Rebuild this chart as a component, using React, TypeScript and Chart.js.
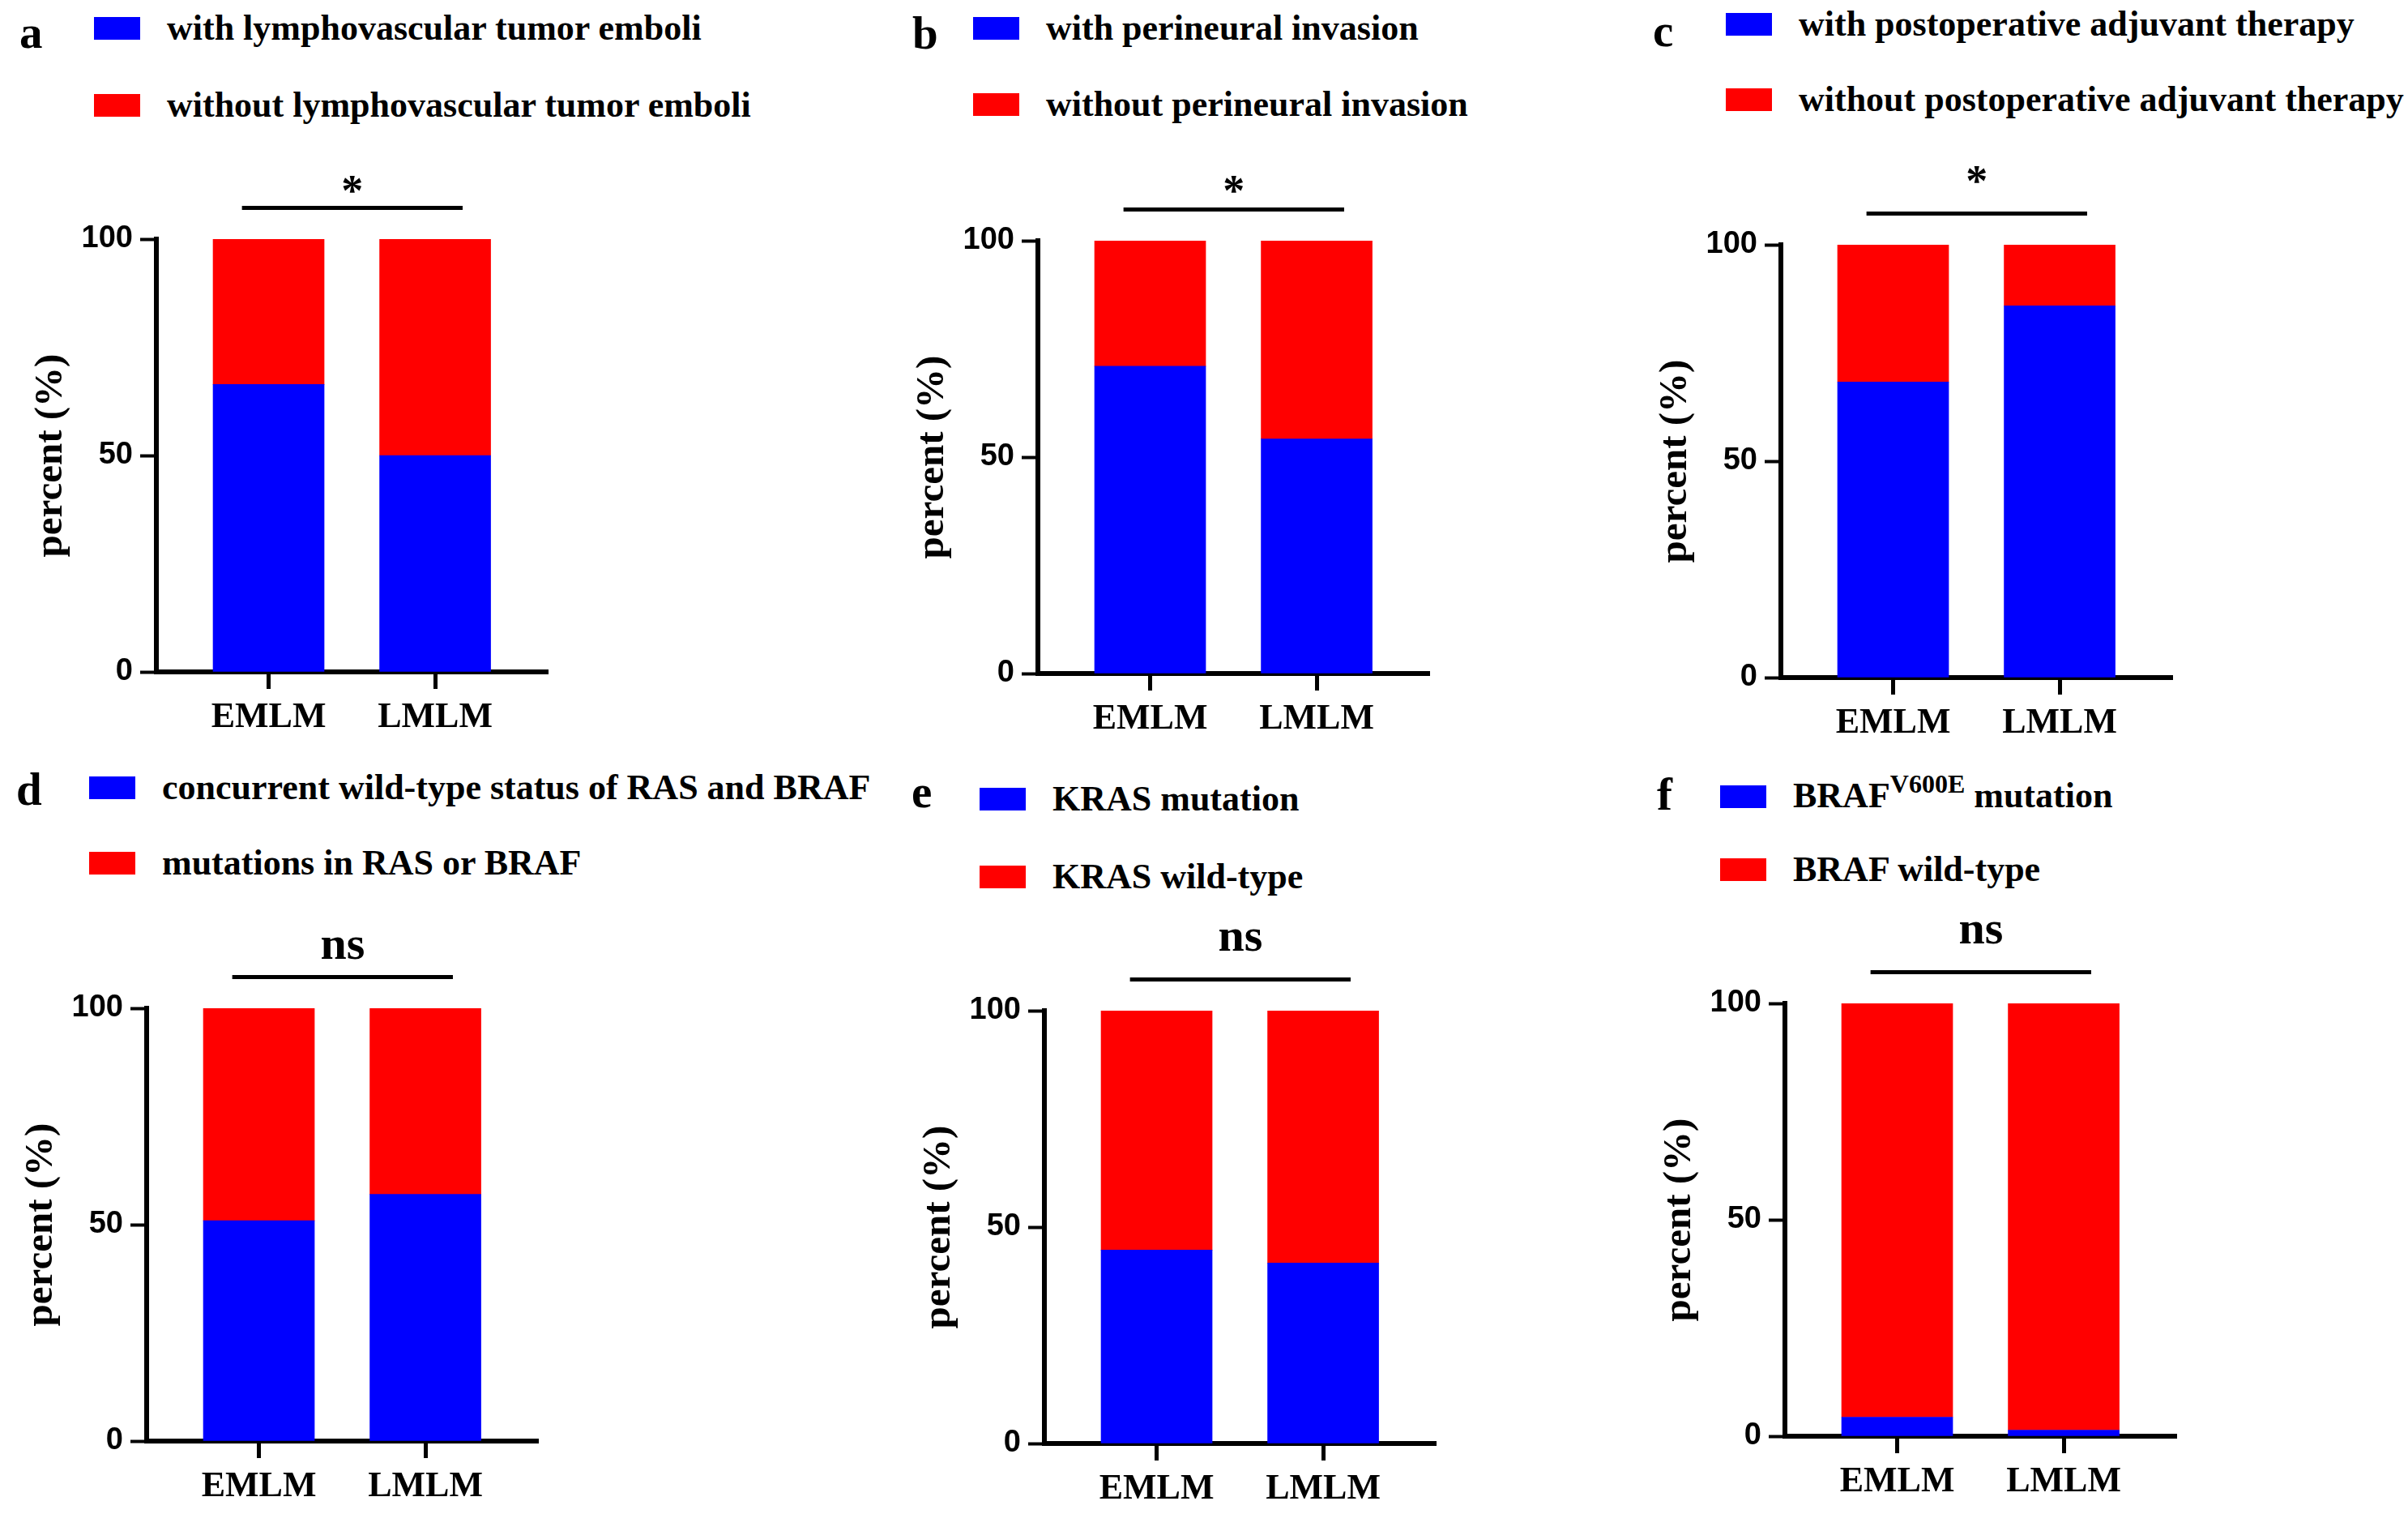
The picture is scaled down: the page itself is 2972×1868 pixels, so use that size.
import { useEffect, useRef } from 'react';
import Chart from 'chart.js/auto';

// categories and tick labels
const categories = ['EMLM', 'LMLM'];
const yTicks = [0, 50, 100];

// percent values (blue = lower segment, red = upper segment)
const lymphWith = [66.4, 50.0];
const lymphWithout = [33.6, 50.0];
const perineuralWith = [71.0, 54.2];
const perineuralWithout = [29.0, 45.8];
const adjuvantWith = [68.3, 85.9];
const adjuvantWithout = [31.7, 14.1];
const wildTypeBoth = [50.9, 57.0];
const rasOrBrafMutated = [49.1, 43.0];
const krasMutated = [44.7, 41.7];
const krasWild = [55.3, 58.3];
const brafMutated = [4.4, 1.4];
const brafWild = [95.6, 98.6];

const BLUE = '#0000ff';
const RED = '#ff0000';
const SERIF = "'Liberation Serif', 'Times New Roman', serif";
const SANS = "'Liberation Sans', Arial, sans-serif";

// canvas geometry shared by every panel
const Y_AXIS_W = 180;
const PAD_TOP = 110;
const PAD_RIGHT = 20;
const X_AXIS_H = 90;
const PLOT_W = 483;
const PLOT_H = 534;
const CANVAS_W = Y_AXIS_W + PLOT_W + PAD_RIGHT;
const CANVAS_H = PAD_TOP + PLOT_H + X_AXIS_H;
const X_MIN = 0.326;
const X_MAX = 2.676;
const BRACKET_FROM = 0.84;
const BRACKET_TO = 2.165;
const BRACKET_LIFT = 38.5;

interface Panel {
  letter: string;
  labels: string[];
  blue: number[];
  red: number[];
  sig: string;
  sigLift: number;
  axisX: number;
  top: number;
  legendX: number;
  rows: number[];
  letterX: number;
  letterBase: number;
}

const panels: Panel[] = [
  {
    letter: 'a',
    labels: ['with lymphovascular tumor emboli', 'without lymphovascular tumor emboli'],
    blue: lymphWith, red: lymphWithout, sig: '*', sigLift: 42,
    axisX: 193, top: 295, legendX: 116, rows: [34.5, 129.5], letterX: 24, letterBase: 59,
  },
  {
    letter: 'b',
    labels: ['with perineural invasion', 'without perineural invasion'],
    blue: perineuralWith, red: perineuralWithout, sig: '*', sigLift: 44.5,
    axisX: 1281, top: 297, legendX: 1201, rows: [35.3, 128.6], letterX: 1126, letterBase: 60,
  },
  {
    letter: 'c',
    labels: ['with postoperative adjuvant therapy', 'without postoperative adjuvant therapy'],
    blue: adjuvantWith, red: adjuvantWithout, sig: '*', sigLift: 61.5,
    axisX: 2198, top: 302, legendX: 2130, rows: [30.1, 123.4], letterX: 2040, letterBase: 57,
  },
  {
    letter: 'd',
    labels: ['concurrent wild-type status of RAS and BRAF', 'mutations in RAS or BRAF'],
    blue: wildTypeBoth, red: rasOrBrafMutated, sig: 'ns', sigLift: 61.5,
    axisX: 181, top: 1244, legendX: 110, rows: [971.6, 1065], letterX: 20, letterBase: 993,
  },
  {
    letter: 'e',
    labels: ['KRAS mutation', 'KRAS wild-type'],
    blue: krasMutated, red: krasWild, sig: 'ns', sigLift: 74.5,
    axisX: 1289, top: 1247, legendX: 1209, rows: [985.8, 1081.5], letterX: 1125, letterBase: 996,
  },
  {
    letter: 'f',
    labels: ['BRAF^V600E^ mutation', 'BRAF wild-type'],
    blue: brafMutated, red: brafWild, sig: 'ns', sigLift: 74.5,
    axisX: 2203, top: 1238, legendX: 2123, rows: [983.4, 1072.5], letterX: 2045, letterBase: 999,
  },
];

const LEGEND_FONT = 44;
const LETTER_FONT = 57;

function LegendText({ text }: { text: string }) {
  const parts = text.split('^');
  if (parts.length < 3) return <span>{text}</span>;
  return (
    <span>
      {parts[0]}
      <span style={{ fontSize: 32, position: 'relative', top: -18 }}>{parts[1]}</span>
      {parts[2]}
    </span>
  );
}

function Legend({ p }: { p: Panel }) {
  const colors = [BLUE, RED];
  return (
    <>
      <div
        style={{
          position: 'absolute',
          left: p.letterX,
          top: p.letterBase - 47.7,
          fontFamily: SERIF,
          fontWeight: 'bold',
          fontSize: LETTER_FONT,
          lineHeight: `${LETTER_FONT}px`,
        }}
      >
        {p.letter}
      </div>
      {p.labels.map((label, i) => (
        <div
          key={label}
          style={{
            position: 'absolute',
            left: p.legendX,
            top: p.rows[i] - LEGEND_FONT / 2,
            height: LEGEND_FONT,
            display: 'flex',
            alignItems: 'center',
            whiteSpace: 'nowrap',
            fontFamily: SERIF,
            fontWeight: 'bold',
            fontSize: LEGEND_FONT,
            lineHeight: `${LEGEND_FONT}px`,
          }}
        >
          <div style={{ width: 57, height: 28, background: colors[i], marginRight: 33 }} />
          <LegendText text={label} />
        </div>
      ))}
    </>
  );
}

function BarPanel({ p }: { p: Panel }) {
  const canvasRef = useRef<HTMLCanvasElement | null>(null);

  useEffect(() => {
    if (!canvasRef.current) return;

    const bracket = {
      id: 'bracket',
      afterDraw(chart: any) {
        const { ctx, chartArea, scales } = chart;
        const x1 = scales.x.getPixelForValue(BRACKET_FROM);
        const x2 = scales.x.getPixelForValue(BRACKET_TO);
        const y = chartArea.top - BRACKET_LIFT;
        ctx.save();
        ctx.strokeStyle = '#000';
        ctx.lineWidth = 5;
        ctx.beginPath();
        ctx.moveTo(x1, y);
        ctx.lineTo(x2, y);
        ctx.stroke();
        ctx.fillStyle = '#000';
        ctx.textAlign = 'center';
        ctx.textBaseline = 'alphabetic';
        ctx.font = `bold ${p.sig === '*' ? 54 : 58}px ${SERIF}`;
        ctx.fillText(p.sig, (x1 + x2) / 2, chartArea.top - p.sigLift);
        ctx.restore();
      },
    };

    const toPoints = (values: number[]) => values.map((v, i) => ({ x: i + 1, y: v }));

    const chart = new Chart(canvasRef.current, {
      type: 'bar',
      data: {
        datasets: [
          { label: p.labels[0], data: toPoints(p.blue), backgroundColor: BLUE, borderWidth: 0, barThickness: 137 },
          { label: p.labels[1], data: toPoints(p.red), backgroundColor: RED, borderWidth: 0, barThickness: 137 },
        ],
      },
      options: {
        animation: false,
        responsive: false,
        layout: { padding: { top: PAD_TOP, right: PAD_RIGHT, bottom: 0, left: 0 } },
        plugins: {
          legend: { display: false },
          tooltip: { enabled: false },
        },
        scales: {
          x: {
            type: 'linear',
            stacked: true,
            min: X_MIN,
            max: X_MAX,
            offset: false,
            afterBuildTicks: (s: any) => {
              s.ticks = categories.map((_, i) => ({ value: i + 1 }));
            },
            afterFit: (s: any) => {
              s.height = X_AXIS_H;
            },
            ticks: {
              callback: (v: any) => categories[Number(v) - 1] ?? '',
              color: '#000',
              font: { family: SERIF, size: 44, weight: 'bold' },
              padding: 9,
              maxRotation: 0,
              autoSkip: false,
            },
            grid: {
              display: true,
              drawOnChartArea: false,
              drawTicks: true,
              tickLength: 21,
              tickWidth: 5,
              color: '#000',
              offset: false,
            },
            border: { display: true, color: '#000', width: 6 },
          },
          y: {
            stacked: true,
            min: 0,
            max: 100,
            afterBuildTicks: (s: any) => {
              s.ticks = yTicks.map((v) => ({ value: v }));
            },
            afterFit: (s: any) => {
              s.width = Y_AXIS_W;
            },
            ticks: {
              color: '#000',
              font: { family: SANS, size: 38, weight: 'bold' },
              padding: 9,
            },
            grid: {
              display: true,
              drawOnChartArea: false,
              drawTicks: true,
              tickLength: 20,
              tickWidth: 4,
              color: '#000',
            },
            border: { display: true, color: '#000', width: 6 },
            title: {
              display: true,
              text: 'percent (%)',
              color: '#000',
              font: { family: SERIF, size: 49, weight: 'bold' },
              padding: { top: 21, bottom: 0 },
            },
          },
        },
      } as any,
      plugins: [bracket],
    });

    return () => {
      chart.destroy();
    };
  }, [p]);

  return (
    <div style={{ position: 'absolute', left: p.axisX - Y_AXIS_W, top: p.top - PAD_TOP }}>
      <canvas ref={canvasRef} width={CANVAS_W} height={CANVAS_H} style={{ display: 'block' }} />
    </div>
  );
}

export default function App() {
  return (
    <div
      style={{
        position: 'absolute',
        left: 0,
        top: 0,
        width: 2972,
        height: 1868,
        background: '#fff',
        overflow: 'hidden',
        color: '#000',
      }}
    >
      {panels.map((p) => (
        <div key={p.letter}>
          <Legend p={p} />
          <BarPanel p={p} />
        </div>
      ))}
    </div>
  );
}
